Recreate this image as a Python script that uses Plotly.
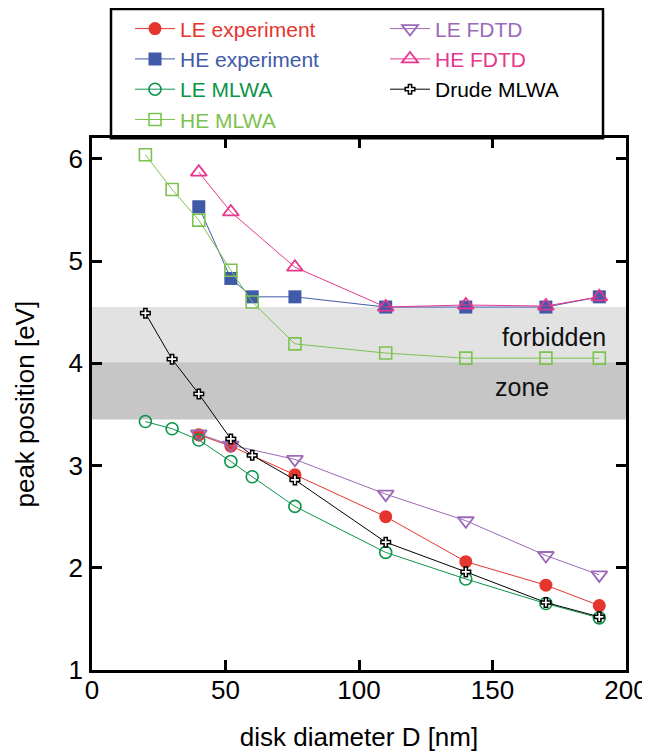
import plotly.graph_objects as go

# ---- data ----
D_le_exp = [40, 52, 76, 110, 140, 170, 190]
E_le_exp = [3.30, 3.19, 2.91, 2.50, 2.06, 1.83, 1.63]

D_he_exp = [40, 52, 60, 76, 110, 140, 170, 190]
E_he_exp = [5.53, 4.83, 4.65, 4.65, 4.55, 4.55, 4.55, 4.65]

D_le_fdtd = [40, 52, 76, 110, 140, 170, 190]
E_le_fdtd = [3.31, 3.20, 3.06, 2.72, 2.46, 2.12, 1.93]

D_he_fdtd = [40, 52, 76, 110, 140, 170, 190]
E_he_fdtd = [5.87, 5.48, 4.94, 4.55, 4.57, 4.56, 4.65]

D_mlwa = [20, 30, 40, 52, 60, 76, 110, 140, 170, 190]
E_le_mlwa = [3.43, 3.36, 3.25, 3.04, 2.89, 2.60, 2.15, 1.89, 1.65, 1.51]
E_he_mlwa = [6.04, 5.70, 5.40, 4.91, 4.60, 4.19, 4.10, 4.05, 4.05, 4.05]
E_drude_mlwa = [4.49, 4.04, 3.70, 3.26, 3.10, 2.86, 2.25, 1.96, 1.66, 1.52]

zone_light = [4.01, 4.55]
zone_dark = [3.45, 4.01]

x_ticks = [0, 50, 100, 150, 200]
y_ticks = [1, 2, 3, 4, 5, 6]

RED = "#e5352f"
BLUE = "#3f5aa9"
DGREEN = "#0c944a"
LGREEN = "#7cc24e"
PURPLE = "#9a6ab8"
PINK = "#e8368e"
BLACK = "#000000"

FONT = "Liberation Sans, Arial, sans-serif"

# layout geometry, in window pixels; the page body adds an 8px offset
OFF = 8
WIN_W, WIN_H = 650, 752
W, H = WIN_W - OFF, WIN_H - OFF
PLOT_L, PLOT_R, PLOT_T, PLOT_B = 92, 626, 133.5, 670
ML = PLOT_L - OFF
MR = W - (PLOT_R - OFF)
MT = 0
MB = H - (PLOT_B - OFF)
PAPER_H = H - MT - MB
PAPER_W = W - ML - MR


def py(win_y):
    """window pixel row -> paper y fraction"""
    return (PAPER_H - (win_y - OFF - MT)) / PAPER_H


def px(win_x):
    return (win_x - OFF - ML) / PAPER_W


Y_DOM_TOP = py(PLOT_T)


def nm(text, color):
    return f'<span style="color:{color}">{text}</span>'


fig = go.Figure()

fig.add_trace(go.Scatter(
    x=D_le_exp, y=E_le_exp, mode="lines+markers", name=nm("LE experiment", RED),
    line=dict(color=RED, width=1), legendrank=1,
    marker=dict(symbol="circle", size=13, color=RED, line=dict(width=0))))
fig.add_trace(go.Scatter(
    x=D_he_exp, y=E_he_exp, mode="lines+markers", name=nm("HE experiment", BLUE),
    line=dict(color=BLUE, width=1), legendrank=3,
    marker=dict(symbol="square", size=13, color=BLUE, line=dict(width=0))))
fig.add_trace(go.Scatter(
    x=D_le_fdtd, y=E_le_fdtd, mode="lines+markers", name=nm("LE FDTD", PURPLE),
    line=dict(color=PURPLE, width=1), legendrank=2,
    marker=dict(symbol="triangle-down-open", size=14, color=PURPLE, line=dict(width=1.8))))
fig.add_trace(go.Scatter(
    x=D_he_fdtd, y=E_he_fdtd, mode="lines+markers", name=nm("HE FDTD", PINK),
    line=dict(color=PINK, width=1), legendrank=4,
    marker=dict(symbol="triangle-up-open", size=14, color=PINK, line=dict(width=1.8))))
fig.add_trace(go.Scatter(
    x=D_mlwa, y=E_le_mlwa, mode="lines+markers", name=nm("LE MLWA", DGREEN),
    line=dict(color=DGREEN, width=1), legendrank=5,
    marker=dict(symbol="circle-open", size=12, color=DGREEN, line=dict(width=1.6))))
fig.add_trace(go.Scatter(
    x=D_mlwa, y=E_he_mlwa, mode="lines+markers", name=nm("HE MLWA", LGREEN),
    line=dict(color=LGREEN, width=1), legendrank=7,
    marker=dict(symbol="square-open", size=12, color=LGREEN, line=dict(width=1.6))))
fig.add_trace(go.Scatter(
    x=D_mlwa, y=E_drude_mlwa, mode="lines+markers", name=nm("Drude MLWA", BLACK),
    line=dict(color=BLACK, width=1), legendrank=6,
    marker=dict(symbol="cross", size=8, color="white", line=dict(width=1.5, color=BLACK))))

# forbidden zone bands
fig.add_shape(type="rect", xref="paper", yref="y", x0=0, x1=1,
              y0=zone_light[0], y1=zone_light[1], fillcolor="#e2e2e2",
              line=dict(width=0), layer="below")
fig.add_shape(type="rect", xref="paper", yref="y", x0=0, x1=1,
              y0=zone_dark[0], y1=zone_dark[1], fillcolor="#c6c6c6",
              line=dict(width=0), layer="below")

fig.add_annotation(x=173, y=4.26, text="forbidden", showarrow=False,
                   xanchor="center", yanchor="middle",
                   font=dict(family=FONT, size=25, color="#111"))
fig.add_annotation(x=161, y=3.77, text="zone", showarrow=False,
                   xanchor="center", yanchor="middle",
                   font=dict(family=FONT, size=25, color="#111"))

# legend frame
fig.add_shape(type="rect", xref="paper", yref="paper",
              x0=px(111), x1=px(603), y0=Y_DOM_TOP, y1=py(3),
              line=dict(color="black", width=2.5), fillcolor="rgba(0,0,0,0)")

fig.update_layout(
    width=W, height=H,
    margin=dict(l=ML, r=MR, t=MT, b=MB, pad=0),
    paper_bgcolor="white", plot_bgcolor="white",
    font=dict(family=FONT, size=25, color="black"),
    showlegend=True,
    legend=dict(
        orientation="h", xref="paper", yref="paper",
        x=px(130), xanchor="left",
        y=py(69), yanchor="middle",
        entrywidth=200, entrywidthmode="pixels",
        itemwidth=40, traceorder="normal",
        font=dict(family=FONT, size=21),
        bgcolor="rgba(0,0,0,0)", borderwidth=0,
    ),
    xaxis=dict(
        range=[0, 200], tickvals=x_ticks, ticktext=[str(v) for v in x_ticks],
        showgrid=False, zeroline=False, automargin=False,
        showline=True, linecolor="black", linewidth=2.5, mirror="ticks",
        ticks="inside", ticklen=10, tickwidth=2.5, tickcolor="black",
        tickfont=dict(size=26), ticklabelstandoff=-5,
        title=dict(text="disk diameter D [nm]", font=dict(size=26), standoff=26),
    ),
    yaxis=dict(
        range=[1, 6.2], tickvals=y_ticks, ticktext=[str(v) for v in y_ticks],
        domain=[0, Y_DOM_TOP],
        showgrid=False, zeroline=False, automargin=False,
        showline=True, linecolor="black", linewidth=2.5, mirror="ticks",
        ticks="inside", ticklen=10, tickwidth=2.5, tickcolor="black",
        tickfont=dict(size=26), ticklabelstandoff=1,
        title=dict(text="peak position [eV]", font=dict(size=26), standoff=27),
    ),
)

fig.write_html("out.html")
